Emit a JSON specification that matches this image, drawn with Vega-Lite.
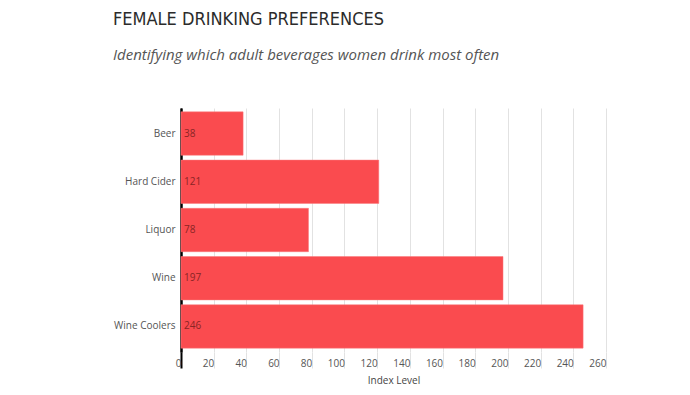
{
  "$schema": "https://vega.github.io/schema/vega-lite/v6.json",
  "autosize": {"type": "none"},
  "width": 425,
  "height": 244,
  "padding": {"left": 181, "top": 108, "right": 84, "bottom": 43},
  "background": "white",
  "config": {"view": {"stroke": null}, "font": "Open Sans"},
  "title": {
    "text": "FEMALE DRINKING PREFERENCES",
    "subtitle": "Identifying which adult beverages women drink most often",
    "anchor": "start",
    "frame": "group",
    "dx": -68,
    "offset": 45,
    "font": "DejaVu Sans Condensed",
    "fontSize": 18,
    "fontWeight": "normal",
    "color": "#2b2b2b",
    "subtitleFont": "Open Sans",
    "subtitleFontStyle": "italic",
    "subtitleFontSize": 15,
    "subtitleColor": "#555555",
    "subtitlePadding": 19
  },
  "data": {
    "values": [
      {"beverage": "Beer", "index": 38},
      {"beverage": "Hard Cider", "index": 121},
      {"beverage": "Liquor", "index": 78},
      {"beverage": "Wine", "index": 197},
      {"beverage": "Wine Coolers", "index": 246}
    ]
  },
  "encoding": {
    "y": {
      "field": "beverage",
      "type": "nominal",
      "sort": null,
      "scale": {"paddingInner": 0.1, "paddingOuter": 0.08},
      "axis": {
        "title": null,
        "domainColor": "#000000",
        "domainWidth": 2,
        "ticks": false,
        "labelFont": "Open Sans",
        "labelFontSize": 10,
        "labelColor": "#555555",
        "labelPadding": 6
      }
    }
  },
  "layer": [
    {
      "mark": {"type": "bar", "color": "#fa4b4f", "stroke": "#fb7a7d", "strokeWidth": 0.5},
      "encoding": {
        "x": {
          "field": "index",
          "type": "quantitative",
          "scale": {"domain": [0, 260], "nice": false},
          "axis": {
            "title": "Index Level",
            "titleFont": "Open Sans",
            "titleFontSize": 10,
            "titleFontWeight": "normal",
            "titleColor": "#444444",
            "titlePadding": 6,
            "values": [0, 20, 40, 60, 80, 100, 120, 140, 160, 180, 200, 220, 240, 260],
            "labelOverlap": false,
            "grid": true,
            "gridColor": {"condition": {"test": "datum.value === 0", "value": "#000000"}, "value": "#e2e2e2"},
            "gridWidth": {"condition": {"test": "datum.value === 0", "value": 2}, "value": 1},
            "domain": false,
            "tickSize": 16,
            "tickColor": {"condition": {"test": "datum.value === 0", "value": "#000000"}, "value": "#e2e2e2"},
            "tickWidth": {"condition": {"test": "datum.value === 0", "value": 2}, "value": 1},
            "labelAlign": "right",
            "labelDx": -4,
            "labelPadding": -10,
            "labelFont": "Open Sans",
            "labelFontSize": 10,
            "labelColor": "#555555"
          }
        }
      }
    },
    {
      "mark": {"type": "text", "align": "left", "dx": 3, "font": "Open Sans", "fontSize": 10, "color": "#8a2525"},
      "encoding": {
        "x": {
          "datum": 0,
          "type": "quantitative",
          "axis": {
            "title": "Index Level",
            "titleFont": "Open Sans",
            "titleFontSize": 10,
            "titleFontWeight": "normal",
            "titleColor": "#444444",
            "titlePadding": 6,
            "values": [0, 20, 40, 60, 80, 100, 120, 140, 160, 180, 200, 220, 240, 260],
            "labelOverlap": false,
            "grid": true,
            "gridColor": {"condition": {"test": "datum.value === 0", "value": "#000000"}, "value": "#e2e2e2"},
            "gridWidth": {"condition": {"test": "datum.value === 0", "value": 2}, "value": 1},
            "domain": false,
            "tickSize": 16,
            "tickColor": {"condition": {"test": "datum.value === 0", "value": "#000000"}, "value": "#e2e2e2"},
            "tickWidth": {"condition": {"test": "datum.value === 0", "value": 2}, "value": 1},
            "labelAlign": "right",
            "labelDx": -4,
            "labelPadding": -10,
            "labelFont": "Open Sans",
            "labelFontSize": 10,
            "labelColor": "#555555"
          }
        },
        "text": {"field": "index", "type": "quantitative"}
      }
    }
  ]
}
